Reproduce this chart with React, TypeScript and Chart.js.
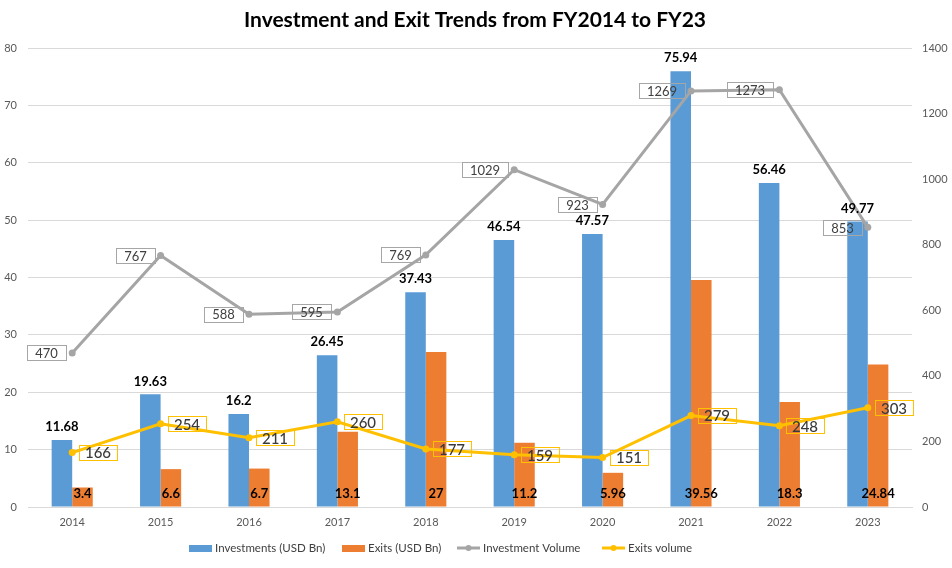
import React, { useEffect, useRef } from 'react';
import { Chart, registerables } from 'chart.js';

Chart.register(...registerables);

const years = ['2014', '2015', '2016', '2017', '2018', '2019', '2020', '2021', '2022', '2023'];
const investments = [11.68, 19.63, 16.2, 26.45, 37.43, 46.54, 47.57, 75.94, 56.46, 49.77];
const exits = [3.4, 6.6, 6.7, 13.1, 27, 11.2, 5.96, 39.56, 18.3, 24.84];
const investmentVolume = [470, 767, 588, 595, 769, 1029, 923, 1269, 1273, 853];
const exitsVolume = [166, 254, 211, 260, 177, 159, 151, 279, 248, 303];

const leftMax = 80;
const leftStep = 10;
const rightMax = 1400;
const rightStep = 200;

const title = 'Investment and Exit Trends from FY2014 to FY23';
const seriesNames = ['Investments (USD Bn)', 'Exits (USD Bn)', 'Investment Volume', 'Exits volume'];

const FONT = 'Lato, "Open Sans", sans-serif';
const BLUE = '#5b9bd5';
const ORANGE = '#ed7d31';
const GREY = '#a5a5a5';
const GOLD = '#ffc000';

const labelPlugin = {
  id: 'customLabels',
  afterDatasetsDraw(chart: any) {
    const ctx = chart.ctx;
    ctx.save();
    ctx.textAlign = 'center';
    ctx.textBaseline = 'middle';
    ctx.font = `bold 13px ${FONT}`;
    ctx.fillStyle = '#000';
    chart.getDatasetMeta(0).data.forEach((el: any, i: number) => {
      ctx.fillText(String(investments[i]), el.x, el.y - 13);
    });
    chart.getDatasetMeta(1).data.forEach((el: any, i: number) => {
      ctx.fillText(String(exits[i]), el.x, el.base - 13);
    });
    ctx.font = `13px ${FONT}`;
    chart.getDatasetMeta(2).data.forEach((el: any, i: number) => {
      const t = String(investmentVolume[i]);
      const w = Math.round(ctx.measureText(t).width + 16);
      const h = 15;
      const x1 = Math.round(el.x - 6 - w);
      const y1 = Math.round(el.y - h / 2);
      ctx.strokeStyle = '#a6a6a6';
      ctx.lineWidth = 1;
      ctx.strokeRect(x1 + 0.5, y1 + 0.5, w, h);
      ctx.fillStyle = '#404040';
      ctx.fillText(t, x1 + w / 2, el.y + 1);
    });
    ctx.font = `500 15px ${FONT}`;
    chart.getDatasetMeta(3).data.forEach((el: any, i: number) => {
      const t = String(exitsVolume[i]);
      const w = Math.round(ctx.measureText(t).width + 12);
      const h = 15;
      const x1 = Math.round(el.x + 7);
      const y1 = Math.round(el.y - h / 2);
      ctx.strokeStyle = GOLD;
      ctx.lineWidth = 1;
      ctx.strokeRect(x1 + 0.5, y1 + 0.5, w, h);
      ctx.fillStyle = '#3a3a3a';
      ctx.fillText(t, x1 + w / 2, el.y + 1);
    });
    ctx.restore();
  },
  afterDraw(chart: any) {
    const ctx = chart.ctx;
    ctx.save();
    ctx.font = `bold 21px ${FONT}`;
    ctx.fillStyle = '#000';
    ctx.textAlign = 'center';
    ctx.textBaseline = 'middle';
    ctx.fillText(title, 475, 20);
    const starts = [189, 342, 457, 602];
    const colors = [BLUE, ORANGE, GREY, GOLD];
    const ly = 548;
    ctx.font = `11.5px ${FONT}`;
    ctx.textAlign = 'left';
    seriesNames.forEach((name, i) => {
      const sx = starts[i];
      if (i < 2) {
        ctx.fillStyle = colors[i];
        ctx.fillRect(sx, ly - 3, 23, 7);
      } else {
        ctx.strokeStyle = colors[i];
        ctx.lineWidth = 3;
        ctx.beginPath();
        ctx.moveTo(sx, ly);
        ctx.lineTo(sx + 23, ly);
        ctx.stroke();
        ctx.fillStyle = colors[i];
        ctx.beginPath();
        ctx.arc(sx + 11.5, ly, 3, 0, Math.PI * 2);
        ctx.fill();
      }
      ctx.fillStyle = '#404040';
      ctx.fillText(name, sx + 26, ly);
    });
    ctx.restore();
  },
};

export default function App() {
  const ref = useRef<HTMLCanvasElement>(null);
  useEffect(() => {
    if (!ref.current) return;
    const chart = new Chart(ref.current, {
      type: 'bar',
      data: {
        labels: years,
        datasets: [
          {
            type: 'bar',
            label: seriesNames[0],
            data: investments,
            backgroundColor: BLUE,
            yAxisID: 'y',
            order: 2,
            barPercentage: 1,
            categoryPercentage: 0.465,
          },
          {
            type: 'bar',
            label: seriesNames[1],
            data: exits,
            backgroundColor: ORANGE,
            yAxisID: 'y',
            order: 2,
            barPercentage: 1,
            categoryPercentage: 0.465,
          },
          {
            type: 'line',
            label: seriesNames[2],
            data: investmentVolume,
            borderColor: GREY,
            backgroundColor: GREY,
            borderWidth: 3,
            pointRadius: 3.5,
            pointBackgroundColor: GREY,
            pointBorderWidth: 0,
            yAxisID: 'y1',
            order: 0,
            tension: 0,
          },
          {
            type: 'line',
            label: seriesNames[3],
            data: exitsVolume,
            borderColor: GOLD,
            backgroundColor: GOLD,
            borderWidth: 3,
            pointRadius: 3.5,
            pointBackgroundColor: GOLD,
            pointBorderWidth: 0,
            yAxisID: 'y1',
            order: 0,
            tension: 0,
          },
        ],
      } as any,
      options: {
        animation: false,
        responsive: false,
        maintainAspectRatio: false,
        layout: { padding: { top: 48, left: 0, right: 0, bottom: 36 } },
        plugins: {
          legend: { display: false },
          title: { display: false },
          tooltip: { enabled: false },
        },
        scales: {
          x: {
            grid: { display: false, drawTicks: false },
            border: { display: true, color: '#d9d9d9' },
            ticks: { color: '#595959', font: { family: FONT, size: 11 }, padding: 9 },
            afterFit: (s: any) => { s.height = 25; },
          },
          y: {
            position: 'left',
            min: 0,
            max: leftMax,
            ticks: { stepSize: leftStep, color: '#595959', font: { family: FONT, size: 11 }, padding: 11, callback: (v: any) => String(v) },
            grid: { color: '#d9d9d9', drawTicks: false },
            border: { display: false },
            afterFit: (s: any) => { s.width = 28; },
          },
          y1: {
            position: 'right',
            min: 0,
            max: rightMax,
            ticks: { stepSize: rightStep, color: '#595959', font: { family: FONT, size: 11 }, padding: 10, callback: (v: any) => String(v) },
            grid: { display: false, drawTicks: false },
            border: { display: false },
            afterFit: (s: any) => { s.width = 40; },
          },
        },
      } as any,
      plugins: [labelPlugin],
    });
    return () => chart.destroy();
  }, []);
  return (
    <div style={{ position: 'absolute', left: 0, top: 0, width: 952, height: 568, background: '#fff' }}>
      <canvas ref={ref} width={952} height={568} style={{ display: 'block' }} />
    </div>
  );
}
